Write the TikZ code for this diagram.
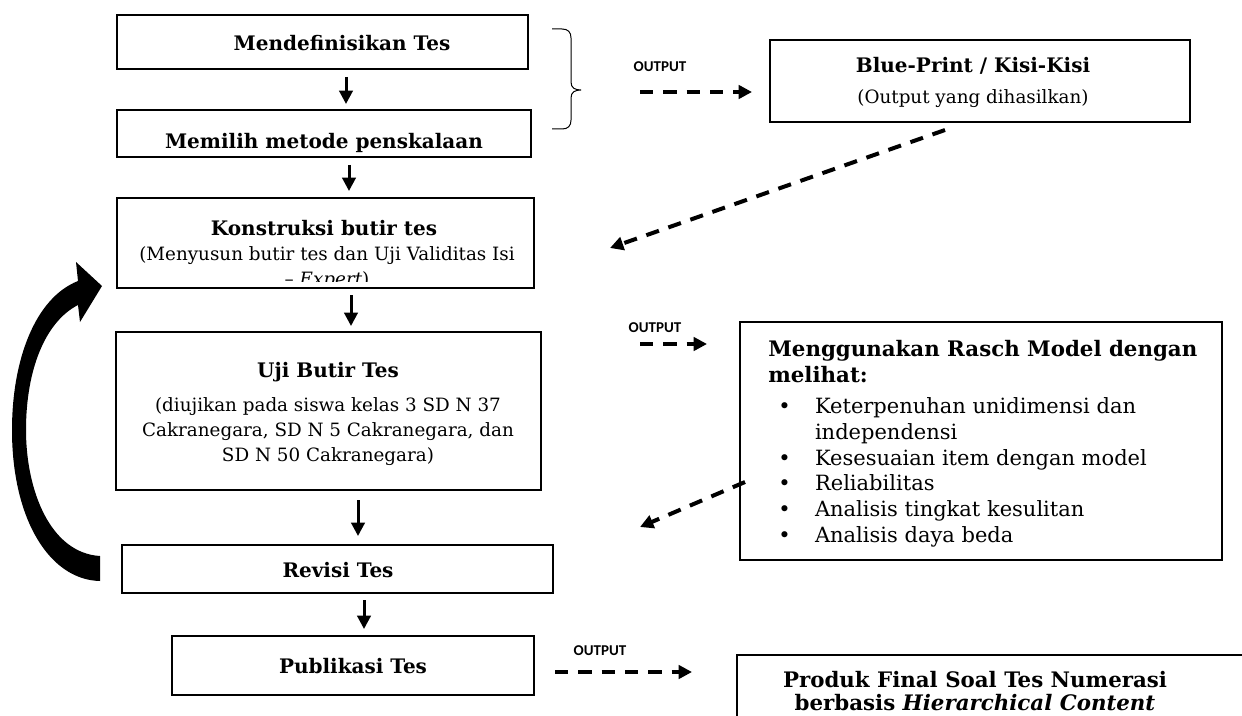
\documentclass[tikz,border=0pt]{standalone}
\usepackage{fontspec}
\setmainfont{DejaVu Serif}
\newfontfamily\outfont{Carlito}
\usetikzlibrary{arrows.meta,fit}
\newcommand\rbul[1]{\makebox[28pt][l]{\hspace*{6pt}\textbullet}#1}
\newcommand\rcont[1]{\hspace*{28pt}#1}
\begin{document}
\begin{tikzpicture}[x=0.6pt,y=-0.6pt,
  box/.style={draw, line width=1.3pt, inner sep=0pt},
  ttl/.style={font=\fontsize{12}{15}\selectfont\bfseries, inner sep=0pt, align=center},
  txt/.style={font=\fontsize{11}{15}\selectfont, inner sep=0pt, align=center},
  down/.style={-{Triangle[length=8pt,width=8pt]}, line width=1.8pt},
  dsh/.style={-{Triangle[length=8pt,width=8pt]}, line width=2.4pt, dash pattern=on 8pt off 6pt},
  outlbl/.style={font=\outfont\bfseries\fontsize{9}{10}\selectfont, inner sep=0pt}]
\useasboundingbox (0,0) rectangle (1242,715);

% main column boxes
\node[box, fit={(117,15) (528,69)}] (b1) {};
\node[ttl] (t1) at (342,43) {Mendefinisikan Tes};
\node[box, fit={(117,110) (531,157)}] (b2) {};
\node[ttl] (t2) at (324,143) {Memilih metode penskalaan};
\node[box, fit={(117,198) (534,288)}] (b3) {};
\node[ttl] (t3) at (324,228) {Konstruksi butir tes};
\begin{scope}
  \clip (117,198) rectangle (534,281);
  \node[txt] (t3b) at (327,268) {(Menyusun butir tes dan Uji Validitas Isi\\ -- \textit{Expert})};
\end{scope}
\node[box, fit={(116,332) (541,490)}] (b4) {};
\node[ttl] (t4) at (328,372) {Uji Butir Tes};
\node[txt] (t4b) at (328,432) {(diujikan pada siswa kelas 3 SD N 37\\ Cakranegara, SD N 5 Cakranegara, dan\\ SD N 50 Cakranegara)};
\node[box, fit={(122,545) (553,593)}] (b5) {};
\node[ttl] (t5) at (338,570) {Revisi Tes};
\node[box, fit={(172,636) (534,695)}] (b6) {};
\node[ttl] (t6) at (353,666) {Publikasi Tes};

% down arrows
\coordinate (a1s) at (346,77); \coordinate (a1e) at (346,104);
\coordinate (a2s) at (349,165); \coordinate (a2e) at (349,191);
\coordinate (a3s) at (351,295); \coordinate (a3e) at (351,326);
\coordinate (a4s) at (358,500); \coordinate (a4e) at (358,536);
\coordinate (a5s) at (364,600); \coordinate (a5e) at (364,629);
\draw[down] (a1s) -- (a1e);
\draw[down] (a2s) -- (a2e);
\draw[down] (a3s) -- (a3e);
\draw[down] (a4s) -- (a4e);
\draw[down] (a5s) -- (a5e);

% brace
\draw[line width=0.6pt] (552,29) -- (562,29) .. controls (568,29) and (571,32) .. (571,38)
  -- (571,82) .. controls (571,88) and (575,90) .. (581,90)
  .. controls (575,90) and (571,92) .. (571,98) -- (571,120)
  .. controls (571,126) and (568,129) .. (562,129) -- (552,129);

% right boxes
\node[box, fit={(770,40) (1190,122)}] (bp) {};
\node[ttl] (tbp) at (973,66) {Blue-Print / Kisi-Kisi};
\node[txt] (tbp2) at (973,99) {(Output yang dihasilkan)};

\node[box, fit={(740,322) (1222,560)}] (rm) {};
\node[anchor=north west, inner sep=0pt, align=left, font=\fontsize{12.6}{15.4}\selectfont] (trm) at (768,340)
 {\textbf{\fontsize{12.8}{15.4}\selectfont Menggunakan Rasch Model dengan}\\
  \textbf{\fontsize{12.8}{15.4}\selectfont melihat:}\\[3.5pt]
  \rbul{Keterpenuhan unidimensi dan}\\
  \rcont{independensi}\\
  \rbul{Kesesuaian item dengan model}\\
  \rbul{Reliabilitas}\\
  \rbul{Analisis tingkat kesulitan}\\
  \rbul{Analisis daya beda}};

\draw[line width=1.3pt] (737,730) -- (737,655) -- (1250,655);
\node[ttl, font=\fontsize{12.8}{14.2}\selectfont\bfseries] (tpf) at (975,691) {Produk Final Soal Tes Numerasi\\ berbasis \textit{Hierarchical Content}};

% outputs
\node[outlbl] (o1) at (660,67) {OUTPUT};
\coordinate (o1s) at (640,92); \coordinate (o1e) at (752,92);
\draw[dsh] (o1s) -- (o1e);

\coordinate (d1s) at (945,130); \coordinate (d1e) at (610,248);
\draw[dsh] (d1s) -- (d1e);

\node[outlbl] (o2) at (655,328) {OUTPUT};
\coordinate (o2s) at (640,344); \coordinate (o2e) at (707,344);
\draw[dsh] (o2s) -- (o2e);

\coordinate (d2s) at (745,482); \coordinate (d2e) at (640,527);
\draw[dsh] (d2s) -- (d2e);

\node[outlbl] (o3) at (600,651) {OUTPUT};
\coordinate (o3s) at (555,672); \coordinate (o3e) at (692,672);
\draw[dsh] (o3s) -- (o3e);

% big curved arrow
\fill (100,556) .. controls (50,553) and (26,490) .. (26,430)
  .. controls (26,370) and (45,322) .. (78,305)
  -- (80,322) -- (102,286) -- (76,262) -- (78,281)
  .. controls (35,298) and (12,360) .. (12,430)
  .. controls (12,520) and (50,580) .. (100,581) -- cycle;
\end{tikzpicture}
\end{document}
